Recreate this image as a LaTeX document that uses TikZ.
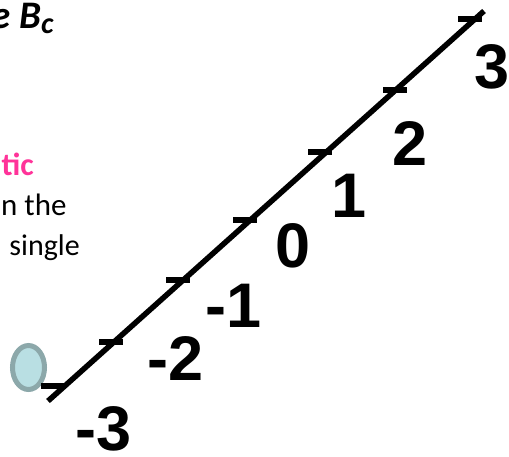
\documentclass[tikz,border=0pt]{standalone}
\usepackage{fontspec}
\usetikzlibrary{shapes.geometric}
\setmainfont{Carlito}
\newfontfamily\numfont{Liberation Sans}
\definecolor{hotpink}{RGB}{255,51,153}
\definecolor{ballfill}{RGB}{185,223,227}
\definecolor{balledge}{RGB}{140,168,170}
\begin{document}
\begin{tikzpicture}[x=1pt,y=-1pt,
  axisline/.style={line width=5.5pt},
  tickmark/.style={line width=6pt},
  numlab/.style={font=\numfont\bfseries\fontsize{63}{63}\selectfont, inner sep=0pt, anchor=base west},
  bodytext/.style={font=\fontsize{30}{30}\selectfont, inner sep=0pt}]
\useasboundingbox (0,0) rectangle (509,456);
\clip (0,0) rectangle (509,456);
% top-left fragments of text
\node[inner sep=0pt, anchor=base west] (title) at (-9,28)
  {\fontsize{39}{39}\selectfont\bfseries\itshape e B\raisebox{-5pt}{\fontsize{30}{30}\selectfont c}};
\node[bodytext, anchor=base east, font=\fontsize{32}{32}\selectfont\bfseries, text=hotpink] (tic) at (34,175) {tic};
\node[bodytext, anchor=base west, font=\fontsize{31}{31}\selectfont] (nthe) at (1,215) {n the};
\node[bodytext, anchor=base east] (single) at (80,255) {single};
% ball
\node[ellipse, draw=balledge, fill=ballfill, line width=5pt, minimum width=32pt, minimum height=44pt, inner sep=0pt] (ball) at (28.5,367.5) {};
% axis
\coordinate (lo) at (48,401);
\coordinate (hi) at (484,11);
\draw[axisline] (lo) -- (hi);
% ticks
\coordinate (tm3) at (53,386);
\coordinate (tm2) at (111,342);
\coordinate (tm1) at (178,280);
\coordinate (t0) at (245,220);
\coordinate (t1) at (320,152);
\coordinate (t2) at (395,90);
\coordinate (t3) at (470,19);
\foreach \t in {tm3,tm2,tm1,t0,t1,t2,t3}
  \draw[tickmark] ([xshift=-12pt]\t) -- ([xshift=12pt]\t);
% labels
\node[numlab] (lm3) at (75,450) {-3};
\node[numlab] (lm2) at (147,380) {-2};
\node[numlab] (lm1) at (205,327) {-1};
\node[numlab] (l0) at (275,267) {0};
\node[numlab] (l1) at (331,217) {1};
\node[numlab] (l2) at (392,165) {2};
\node[numlab] (l3) at (474,88) {3};
\end{tikzpicture}
\end{document}
